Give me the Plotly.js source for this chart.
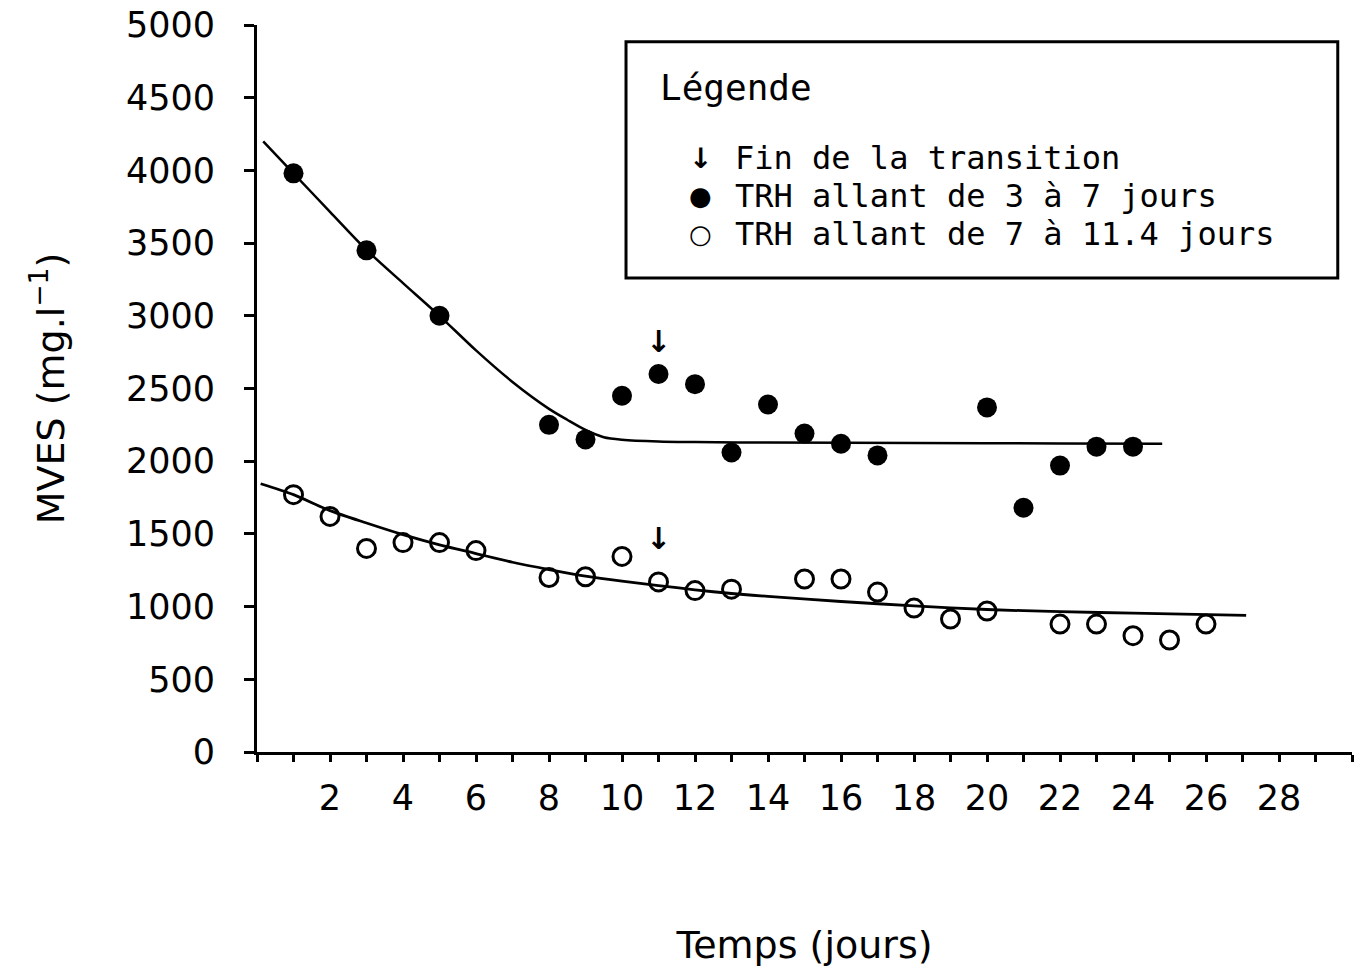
<!DOCTYPE html>
<html>
<head>
<meta charset="utf-8">
<script src="https://cdn.plot.ly/plotly-3.0.1.min.js"></script>
<style>html,body{margin:0;padding:0;background:#fff;}</style>
</head>
<body>
<div id="chart" style="width:1361px;height:970px;"></div>
<script>
// Filled circles: TRH allant de 3 à 7 jours
const xFilled = [1, 3, 5, 8, 9, 10, 11, 12, 13, 14, 15, 16, 17, 20, 21, 22, 23, 24];
const yFilled = [3980, 3450, 3000, 2250, 2150, 2450, 2600, 2530, 2060, 2390, 2190, 2120, 2040, 2370, 1680, 1970, 2100, 2100];
// Open circles: TRH allant de 7 à 11.4 jours
const xOpen = [1, 2, 3, 4, 5, 6, 8, 9, 10, 11, 12, 13, 15, 16, 17, 18, 19, 20, 22, 23, 24, 25, 26];
const yOpen = [1770, 1620, 1400, 1440, 1440, 1385, 1200, 1205, 1345, 1170, 1110, 1120, 1190, 1190, 1100, 990, 915, 970, 880, 880, 800, 770, 880];
// Fitted curves
const xFit1 = [0.17, 1, 2, 3, 4, 5, 6, 7, 8, 8.5, 9, 9.5, 10, 11, 12, 14, 18, 22, 24.8];
const yFit1 = [4200, 3980, 3715, 3453, 3225, 3000, 2762, 2545, 2360, 2285, 2215, 2165, 2148, 2136, 2132, 2128, 2125, 2122, 2120];
const xFit2 = [0.1, 1, 2, 3, 4, 5, 6, 7, 8, 9, 10, 11, 12, 13, 14, 16, 18, 20, 22, 24, 27.1];
const yFit2 = [1845, 1770, 1660, 1575, 1495, 1425, 1365, 1305, 1255, 1210, 1175, 1145, 1115, 1090, 1070, 1035, 1005, 980, 965, 955, 940];
// End of transition arrows (arrow centre positions)
const arrowX = [11, 11];
const arrowY = [2825, 1465];
// Axis ticks
const xTickVals = [2, 4, 6, 8, 10, 12, 14, 16, 18, 20, 22, 24, 26, 28];
const xTickText = ["2", "4", "6", "8", "10", "12", "14", "16", "18", "20", "22", "24", "26", "28"];
const yTickVals = [0, 500, 1000, 1500, 2000, 2500, 3000, 3500, 4000, 4500, 5000];
// Legend texts
const legendTitle = "Légende";
const legendLabels = ["Fin de la transition", "TRH allant de 3 à 7 jours", "TRH allant de 7 à 11.4 jours"];
const legendSymbols = ["↓", "●", "○"];

const FONT = "DejaVu Sans, Verdana, sans-serif";
const MONO = "DejaVu Sans Mono, Liberation Mono, monospace";

const traces = [
  {x: xFit1, y: yFit1, mode: 'lines', line: {color: 'black', width: 2.5, shape: 'spline', smoothing: 0.8}, showlegend: false, hoverinfo: 'skip'},
  {x: xFit2, y: yFit2, mode: 'lines', line: {color: 'black', width: 2.8, shape: 'spline', smoothing: 0.8}, showlegend: false, hoverinfo: 'skip'},
  {x: xFilled, y: yFilled, mode: 'markers', name: legendLabels[1], marker: {symbol: 'circle', size: 20, color: 'black'}, showlegend: false},
  {x: xOpen, y: yOpen, mode: 'markers', name: legendLabels[2], marker: {symbol: 'circle-open', size: 18, color: 'black', line: {width: 3, color: 'black'}}, showlegend: false}
];

const annotations = [];
for (let i = 0; i < arrowX.length; i++) {
  annotations.push({x: arrowX[i], y: arrowY[i], xref: 'x', yref: 'y', text: '↓', showarrow: false,
    xanchor: 'center', yanchor: 'middle', font: {family: FONT, size: 30, color: 'black', weight: 'bold'}});
}
// legend block
annotations.push({x: 0.3662, y: 0.9147, xref: 'paper', yref: 'paper', text: legendTitle, showarrow: false,
  xanchor: 'left', yanchor: 'middle', font: {family: MONO, size: 36, color: 'black'}});
const legY = [0.8170, 0.7648, 0.7125];
const symSize = [28, 26, 26];
for (let i = 0; i < legendLabels.length; i++) {
  annotations.push({x: 0.4046, y: legY[i], xref: 'paper', yref: 'paper', text: legendSymbols[i], showarrow: false,
    xanchor: 'center', yanchor: 'middle', font: {family: FONT, size: symSize[i], color: 'black', weight: i === 0 ? 'bold' : 'normal'}});
  annotations.push({x: 0.4347, y: legY[i], xref: 'paper', yref: 'paper', text: legendLabels[i], showarrow: false,
    xanchor: 'left', yanchor: 'middle', font: {family: MONO, size: 32, color: 'black'}});
}

const layout = {
  width: 1361, height: 970,
  margin: {l: 257, r: 9, t: 25, b: 218, pad: 0},
  paper_bgcolor: 'white', plot_bgcolor: 'white',
  font: {family: FONT, color: 'black'},
  showlegend: false,
  xaxis: {
    range: [0, 30], showgrid: false, zeroline: false,
    showline: true, linecolor: 'black', linewidth: 3,
    tickmode: 'array', tickvals: xTickVals, ticktext: xTickText,
    ticks: 'outside', ticklen: 7, tickwidth: 3, tickcolor: 'black',
    minor: {tickmode: 'linear', tick0: 0, dtick: 1, ticks: 'outside', ticklen: 7, tickwidth: 3, tickcolor: 'black', showgrid: false},
    tickfont: {family: FONT, size: 35, color: 'black'},
    ticklabelstandoff: 6,
    title: {text: 'Temps (jours)', font: {family: FONT, size: 38, color: 'black'}, standoff: 115}
  },
  yaxis: {
    range: [0, 5000], showgrid: false, zeroline: false,
    showline: true, linecolor: 'black', linewidth: 3,
    tickmode: 'array', tickvals: yTickVals,
    ticks: 'outside', ticklen: 10, tickwidth: 3, tickcolor: 'black',
    tickfont: {family: FONT, size: 35, color: 'black'},
    ticklabelstandoff: 22,
    title: {text: 'MVES (mg.l<sup>−1</sup>)', font: {family: FONT, size: 38, color: 'black'}, standoff: 50}
  },
  shapes: [{type: 'rect', xref: 'paper', yref: 'paper', x0: 0.337, x1: 0.987, y0: 0.652, y1: 0.977,
    line: {color: 'black', width: 3}, fillcolor: 'rgba(0,0,0,0)'}],
  annotations: annotations
};

Plotly.newPlot('chart', traces, layout, {displayModeBar: false, staticPlot: true});
</script>
</body>
</html>
